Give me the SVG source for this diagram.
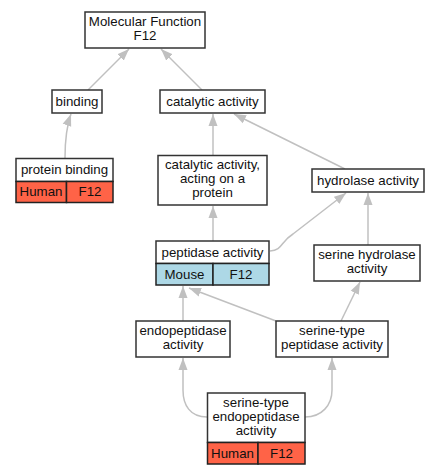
<svg xmlns="http://www.w3.org/2000/svg" width="440" height="475" viewBox="0 0 440 475">
<defs>
<marker id="ah" markerWidth="12" markerHeight="10" refX="12" refY="5" orient="auto" markerUnits="userSpaceOnUse">
<path d="M0,0.5 L12,5 L0,9.5 Z" fill="#c0c0c0"/>
</marker>
<style>
.n{fill:#fff;stroke:#333;stroke-width:1.5}
.h{fill:#ff6347;stroke:#222;stroke-width:1.5}
.m{fill:#add8e6;stroke:#222;stroke-width:1.5}
text{font-family:"Liberation Sans",Arial,sans-serif;font-size:13.3px;fill:#111;text-anchor:middle}
.e path{fill:none;stroke:#c0c0c0;stroke-width:1.5;marker-end:url(#ah)}
</style>
</defs>
<rect width="440" height="475" fill="#fff"/>
<g class="e" id="edges">
<path d="M88,90 L129,49"/>
<path d="M202,90 L161,49"/>
<path d="M65,158 C65,140 67,125 71,114"/>
<path d="M213,156 L213,114"/>
<path d="M345,169 L234,114"/>
<path d="M213,241 L213,206"/>
<path d="M270,251 C283,250 280,242 293,234 L346,193"/>
<path d="M368,245 L368,193"/>
<path d="M183,321 L183,286"/>
<path d="M276,321 L189,288"/>
<path d="M341,321 L360,282"/>
<path d="M207,417 C190,417 183,405 183,390 L183,358"/>
<path d="M305,417 C322,417 332,405 332,390 L332,358"/>
</g>
<g id="mf"><rect class="n" x="85" y="12" width="120" height="36"/><text x="145" y="26">Molecular Function</text><text x="145" y="40">F12</text></g>
<g id="binding"><rect class="n" x="52" y="90" width="50" height="23"/><text x="77" y="106">binding</text></g>
<g id="catalytic"><rect class="n" x="160" y="90" width="105" height="23"/><text x="212.5" y="106">catalytic activity</text></g>
<g id="proteinbinding"><rect class="n" x="16" y="158.5" width="97" height="23"/><rect class="h" x="16" y="181.5" width="50.5" height="21"/><rect class="h" x="66.5" y="181.5" width="46.5" height="21"/><text x="64.5" y="174">protein binding</text><text x="41" y="196">Human</text><text x="90" y="196">F12</text></g>
<g id="catprotein"><rect class="n" x="158" y="155.5" width="109" height="49.5"/><text x="212.5" y="169">catalytic activity,</text><text x="212.5" y="183">acting on a</text><text x="212.5" y="197">protein</text></g>
<g id="hydrolase"><rect class="n" x="312" y="169" width="112" height="23"/><text x="368" y="185">hydrolase activity</text></g>
<g id="peptidase"><rect class="n" x="156" y="241" width="113" height="22.5"/><rect class="m" x="156" y="263.5" width="57" height="21.5"/><rect class="m" x="213" y="263.5" width="56" height="21.5"/><text x="212.5" y="256.5">peptidase activity</text><text x="184.5" y="278.5">Mouse</text><text x="241" y="278.5">F12</text></g>
<g id="serhydro"><rect class="n" x="314" y="245" width="106" height="36"/><text x="367" y="259">serine hydrolase</text><text x="367" y="273">activity</text></g>
<g id="endo"><rect class="n" x="136" y="321" width="94" height="36"/><text x="183" y="335">endopeptidase</text><text x="183" y="349">activity</text></g>
<g id="serpep"><rect class="n" x="276" y="321" width="112" height="36"/><text x="332" y="335">serine-type</text><text x="332" y="349">peptidase activity</text></g>
<g id="serendo"><rect class="n" x="207.5" y="393" width="97.5" height="49.5"/><rect class="h" x="207.5" y="442.5" width="50.5" height="21.5"/><rect class="h" x="258" y="442.5" width="47" height="21.5"/><text x="256" y="407">serine-type</text><text x="256" y="421">endopeptidase</text><text x="256" y="435">activity</text><text x="232.5" y="457.5">Human</text><text x="281.5" y="457.5">F12</text></g>
</svg>
